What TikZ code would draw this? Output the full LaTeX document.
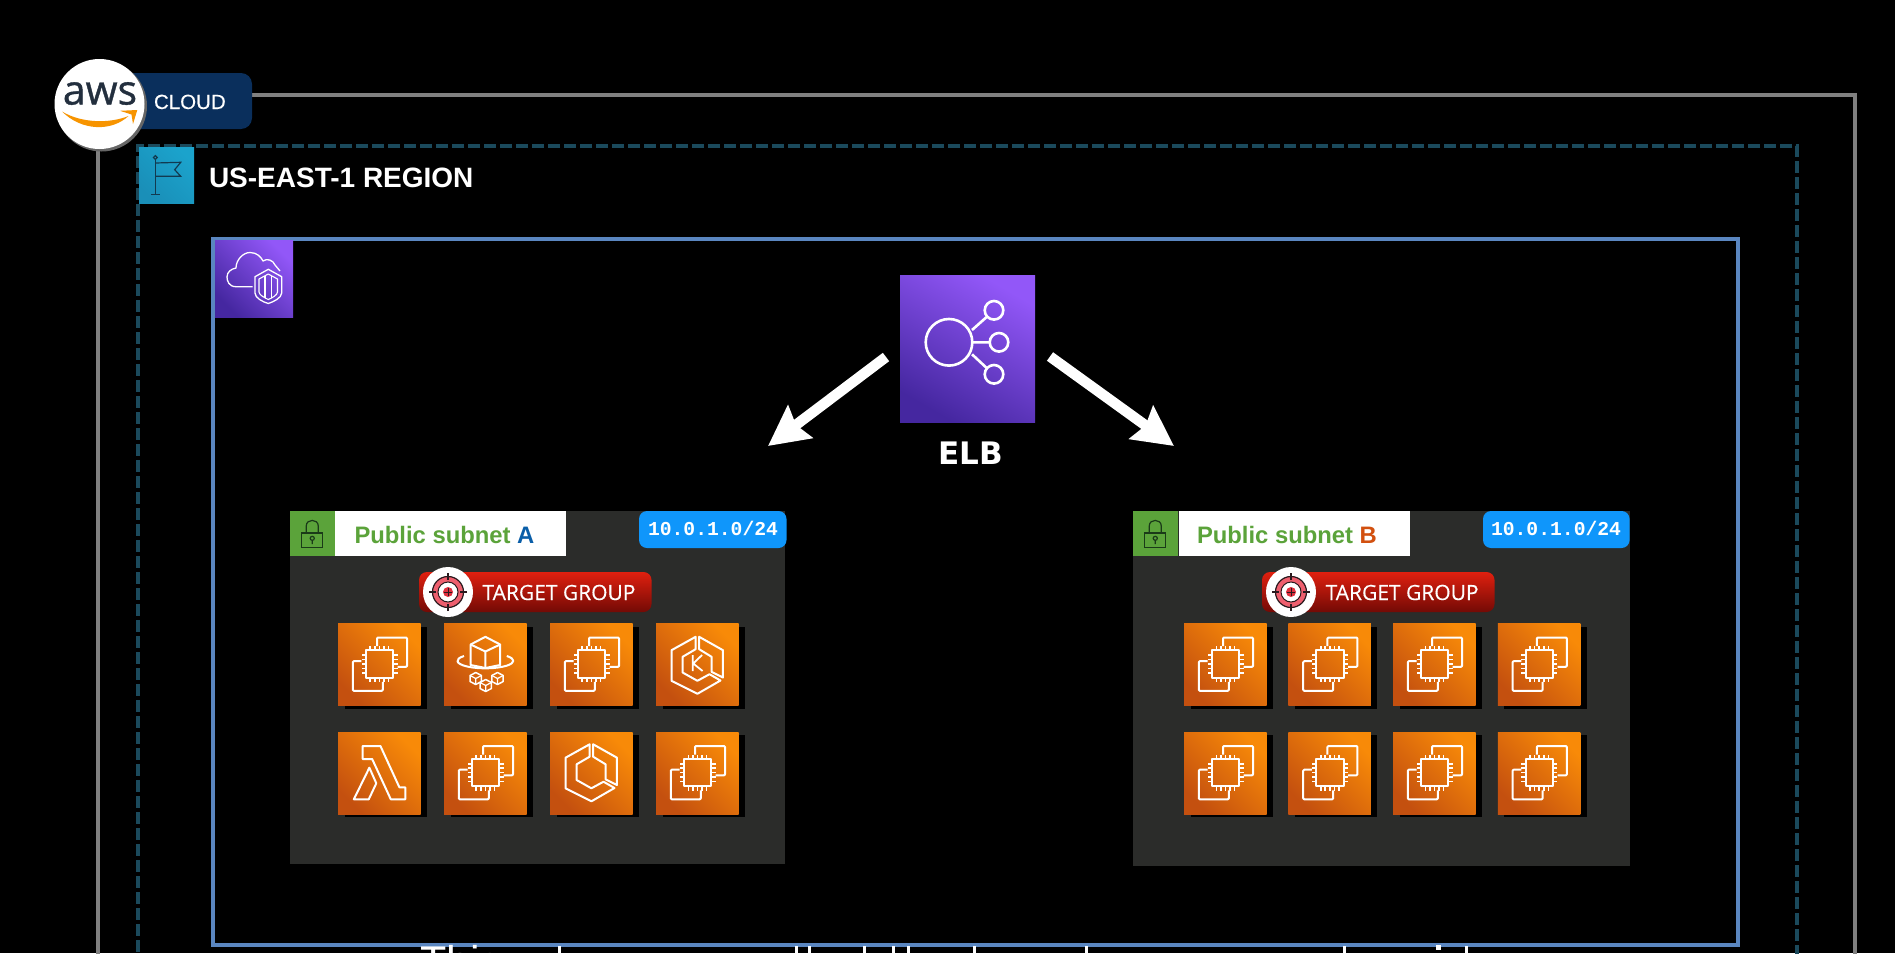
\documentclass[tikz,border=0pt]{standalone}
\usepackage{fontspec}
\setmainfont{Liberation Sans}
\newfontfamily\fmono{Liberation Mono}
\newfontfamily\fopen{Open Sans}[FakeBold=0.35]
\newfontfamily\fawsf{Open Sans}[FakeBold=0.9]
\newfontfamily\fcloud{Liberation Sans}[FakeBold=0.3]
\newfontfamily\fdeja{DejaVu Sans}
\usetikzlibrary{arrows.meta,calc,shapes.geometric}
\definecolor{cloudline}{HTML}{808080}
\definecolor{regionline}{HTML}{1B4A5C}
\definecolor{vpcline}{HTML}{5A86C0}
\definecolor{pillblue}{HTML}{0A2F5C}
\definecolor{subnetbg}{HTML}{2B2C2A}
\definecolor{subgreen}{HTML}{5BA33A}
\definecolor{ipblue}{HTML}{0F96FB}
\definecolor{flagA}{HTML}{1A8FB8}
\definecolor{flagB}{HTML}{1BA3CC}
\definecolor{purpA}{HTML}{4527A0}
\definecolor{purpB}{HTML}{9257F8}
\definecolor{orA}{HTML}{C4500F}
\definecolor{orB}{HTML}{F88A08}
\definecolor{redA}{HTML}{E0200F}
\definecolor{redB}{HTML}{730A05}
\definecolor{awsdark}{HTML}{232F3E}
\definecolor{awsor}{HTML}{F79400}
\definecolor{labA}{HTML}{0A5EA8}
\definecolor{labB}{HTML}{D2500F}
\definecolor{flagink}{HTML}{123A50}
\definecolor{lockink}{HTML}{1A3A18}
\definecolor{tgpink}{HTML}{EE5F6E}
\definecolor{tgred}{HTML}{E0303F}
\definecolor{tgink}{HTML}{2A1A1E}
\tikzset{
  x=1pt,y=-1pt,
  every node/.style={inner sep=0pt,outer sep=0pt},
  cloudbox/.style={draw=cloudline,line width=3.5pt,anchor=north west,minimum width=1757pt,minimum height=900pt},
  regionbox/.style={draw=regionline,line width=3.5pt,dash pattern=on 12pt off 4pt,anchor=north west,minimum width=1659pt,minimum height=880pt},
  vpcbox/.style={draw=vpcline,line width=4pt,anchor=north west,minimum width=1525pt,minimum height=706pt},
  subnetbox/.style={fill=subnetbg,anchor=north west,minimum width=#1,minimum height=353pt},
  greenbox/.style={fill=subgreen,anchor=north west,minimum width=44.5pt,minimum height=45pt},
  whitelabel/.style={fill=white,anchor=north west,minimum width=231pt,minimum height=45pt},
  sublabel/.style={anchor=base west,text=subgreen,font=\bfseries\fontsize{23.8}{26}\selectfont},
  ipbadge/.style={fill=ipblue,rounded corners=8pt,anchor=north west,minimum width=147.5pt,minimum height=37pt},
  iptext/.style={anchor=base west,text=white,font=\fmono\bfseries\fontsize{19.7}{21}\selectfont},
  tgpill/.style={top color=redA,bottom color=redB,rounded corners=8pt,anchor=north west,minimum width=232.5pt,minimum height=40pt},
  tgcircle/.style={circle,fill=white,minimum size=50pt},
  tgtext/.style={anchor=base west,text=white,font=\fopen\fontsize{21}{24}\selectfont},
  orangebox/.style={left color=orA,right color=orB,shading angle=135,anchor=north west,minimum width=82.5pt,minimum height=82pt},
  glyph/.style={draw=white,line width=2pt,line join=round},
  bigarrow/.style={draw=white,line width=10.5pt,-{Stealth[length=40pt,width=40pt,inset=5pt]}},
}
\newcommand{\ecglyph}{%
  \draw[glyph,rounded corners=1pt] (37.7,22.7)--(37.7,14)--(66.7,14)--(66.7,43.3)--(57.7,43.3);
  \draw[glyph,rounded corners=1pt] (22.7,37.7)--(14.3,37.7)--(14.3,67.3)--(43.3,67.3)--(43.3,58.3);
  \draw[glyph] (27,26.7) rectangle (53.3,54.3);
  \foreach \t in {31.2,35.6,40,44.4,48.8}{
    \draw[glyph,line width=1.6pt] (\t,26.7)--(\t,22.5) (\t,54.3)--(\t,58.5);
    \draw[glyph,line width=1.6pt] (27,\t+.5)--(22.8,\t+.5) (53.3,\t+.5)--(57.5,\t+.5);
  }}
\newcommand{\lamglyph}{%
  \draw[glyph] (23.7,14)--(41,14)--(59.3,55.3)--(65,55.3)--(65,67.3)--(51,67.3)--(33,27)--(23.7,27)--cycle;
  \draw[glyph] (30.3,35.7)--(37,51.3)--(29.7,67.3)--(15.3,67.3)--cycle;}
\newcommand{\ecsglyph}{%
  \draw[glyph] (38.3,12.3)--(15,25.7)--(15,56.3)--(40,69.3)--(62.3,56)--(51.7,49.7)--(40,56.3)--(25.7,48)--(25.7,32.3)--(38.3,24.7)--cycle;
  \draw[glyph] (41.7,12.3)--(64.7,25.7)--(64.7,53)--(53.7,47.3)--(53.7,32.3)--(41.7,24.7)--cycle;}
\newcommand{\eksglyph}{%
  \begin{scope}[yshift=-1pt]
  \draw[glyph] (38.3,12.3)--(15,25.7)--(15,56.3)--(40,69.3)--(62.3,56)--(51.7,49.7)--(40,56.3)--(25.7,48)--(25.7,32.3)--(38.3,24.7)--cycle;
  \draw[glyph] (41.7,12.3)--(64.7,25.7)--(64.7,53)--(53.7,47.3)--(53.7,32.3)--(41.7,24.7)--cycle;
  \end{scope}
  \draw[white,line width=1.8pt] (35.5,31.5)--(35.5,47.5) (44.5,31.5)--(36,40)--(45,47.5);}
\newcommand{\fgglyph}{%
  \draw[glyph] (19.3,32.5) arc[start angle=220,end angle=-40,x radius=27,y radius=7.5];
  \draw[glyph] (40,13.3)--(54.3,21)--(54.3,41.5)--(40,44.5)--(25.7,41.5)--(25.7,21)--cycle;
  \draw[glyph] (25.7,21)--(40,28)--(54.3,21) (40,28)--(40,44.5);
  \foreach \cx/\cy in {30.7/55,51.7/55,40.3/62}{
    \begin{scope}[shift={(\cx,\cy)}]
    \draw[glyph,line width=1.5pt] (0,-6)--(5.5,-3)--(5.5,3)--(0,6)--(-5.5,3)--(-5.5,-3)--cycle;
    \draw[glyph,line width=1.2pt] (-5.5,-3)--(0,0)--(5.5,-3) (0,0)--(0,6);
    \end{scope}}}
\newcommand{\iconat}[4]{%
  \fill[black] ({#2+6.5},{#3+3}) rectangle ++(82.5,82);
  \node[orangebox] (#1) at (#2,#3) {};
  \begin{scope}[shift={(#1.north west)},xscale=1.035]#4\end{scope}}
\newcommand{\lockglyph}{%
  \draw[lockink,line width=1.2pt] (11.3,22) rectangle (31.7,36.3);
  \draw[lockink,line width=1.2pt] (15.7,22)--(15.7,15) .. controls (15.7,7.5) and (27.3,7.5) .. (27.3,15)--(27.3,22);
  \draw[lockink,line width=1.2pt] (21.5,27.3) circle[radius=2] (21.5,29.3)--(21.5,33);}
\newcommand{\tgglyph}[1]{%
  \node[tgcircle] (#1c) at (#1.west) [xshift=29pt,yshift=0pt] {};
  \node[circle,draw=tgink,line width=1.2pt,fill=tgpink,minimum size=31pt] (#1o) at (#1c) {};
  \node[circle,draw=tgink,line width=1pt,fill=white,minimum size=20pt] (#1m) at (#1c) {};
  \node[circle,fill=tgred,minimum size=10pt] (#1i) at (#1c) {};
  \draw[tgink,line width=1.2pt] ($(#1c)+(0,-19)$)--($(#1c)+(0,-12)$) ($(#1c)+(0,19)$)--($(#1c)+(0,12)$) ($(#1c)+(-19,0)$)--($(#1c)+(-12,0)$) ($(#1c)+(19,0)$)--($(#1c)+(12,0)$);
  \draw[tgink,line width=.8pt] ($(#1c)+(0,-4)$)--($(#1c)+(0,4)$) ($(#1c)+(-4,0)$)--($(#1c)+(4,0)$);}
\begin{document}
\begin{tikzpicture}
\useasboundingbox (0,0) rectangle (1895,953);
\fill[black] (0,0) rectangle (1895,953);
% containers
\node[cloudbox] (cloud) at (98,95) {};
\node[regionbox] (region) at (138,146) {};
\node[vpcbox] (vpc) at (212.5,239) {};
% bottom caption: only the very tops of its letters are inside the frame
\node[anchor=base west,text=white,font=\fontsize{43}{46}\selectfont] (caption) at (420,976) {This};
\foreach \sx in {558,795,808,863,892,907,973,1085,1343,1465}{\fill[white] (\sx,945.5) rectangle ++(3.2,8);}
\fill[white] (1436,945) rectangle ++(4.5,5);
% aws badge
\node[fill=pillblue,rounded corners=11pt,anchor=north west,minimum width=152pt,minimum height=56pt] (cloudpill) at (100,73) {};
\node[anchor=base west,text=white,font=\fcloud\fontsize{20.5}{22}\selectfont] (cloudtext) at (154,109) {CLOUD};
\node[circle,fill=black!60!white,minimum size=91pt] (awsshadow) at (101.5,106) {};
\node[circle,fill=white,minimum size=90pt] (awslogo) at (99.5,104) {};
\node[anchor=base,text=awsdark,font=\fawsf\fontsize{41}{46}\selectfont] (awstext) at (100,104.5) {aws};
\fill[awsor] (62,111.5) .. controls (82,123.5) and (110,123.5) .. (128.5,116) .. controls (112,131.5) and (82,131.5) .. (62,111.5) -- cycle;
\fill[awsor] (120,110.8) -- (137.3,110) -- (133,124) -- (131.5,114.5) -- cycle;
% region header
\node[left color=flagA,right color=flagB,shading angle=135,anchor=north west,minimum width=55pt,minimum height=56pt] (flag) at (139,147) {};
\begin{scope}[shift={(flag.north west)},flagink,line width=1.2pt]
\draw (16.3,12.5)--(16.3,47.3) (12.3,47.3)--(20.7,47.3);
\draw (16.3,10.5) circle[radius=1.9];
\draw (16.3,16)--(41.7,15.3)--(35.7,22.7)--(41.7,29.3)--(16.3,29.3);
\end{scope}
\node[anchor=base west,text=white,font=\bfseries\fontsize{28}{30}\selectfont] (regiontext) at (209,187) {US-EAST-1 REGION};
% vpc icon
\node[left color=purpA,right color=purpB,shading angle=135,anchor=north west,minimum width=78pt,minimum height=77pt] (vpcicon) at (215,240) {};
\begin{scope}[shift={(vpcicon.north west)}]
\draw[glyph,line width=1.3pt] (37.7,46.7)--(21,46.7) .. controls (14,46.7) and (12,41) .. (12,37) .. controls (12,32) and (16,29) .. (21,28) .. controls (21,20) and (28,12.5) .. (35,12.5) .. controls (42,12.5) and (46,17) .. (48,21) .. controls (52,18) and (58,20) .. (60,25)--(65,31);
\draw[glyph,line width=1.3pt] (53.3,29.3)--(66.7,36.7)--(66.7,53) .. controls (66.7,58) and (58,62) .. (53.3,63.5) .. controls (48,62) and (40,58) .. (40,53)--(40,36.7)--cycle;
\draw[glyph,line width=1.1pt] (53.3,34)--(62.5,39)--(62.5,52) .. controls (62.5,55) and (57,58) .. (53.3,59.5) .. controls (50,58) and (44,55) .. (44,52)--(44,39)--cycle;
\draw[glyph,line width=1.1pt] (50,36)--(50,57.5) (56.6,36)--(56.6,57.5);
\end{scope}
% ELB
\node[left color=purpA,right color=purpB,shading angle=150,anchor=north west,minimum width=135pt,minimum height=147pt] (elb) at (900,275) {};
\begin{scope}[shift={(elb.north west)}]
\draw[glyph,line width=2.6pt] (49,67.3) circle[radius=23.3] (94,35.3) circle[radius=9.3] (99,67.3) circle[radius=9.3] (94,99.3) circle[radius=9.3];
\draw[glyph,line width=2.6pt] (72,55)--(87,41.7) (72.3,67.3)--(89.7,67.3) (72,79.3)--(87,93.3);
\end{scope}
\node[anchor=base,text=white,font=\fdeja\bfseries\fontsize{31}{33}\selectfont] (elbtext) at (971,464) {ELB};
\coordinate (tipA) at (768,446);
\coordinate (tipB) at (1174,446);
\draw[bigarrow] ($(elb.west)+(-14,8.5)$) -- (tipA);
\draw[bigarrow] ($(elb.east)+(15,8)$) -- (tipB);
% subnet A
\node[subnetbox=495pt] (subA) at (290,511) {};
\node[greenbox] (lockA) at (290,511) {};
\begin{scope}[shift={(lockA.north west)},xscale=1.035]\lockglyph\end{scope}
\node[whitelabel] (labelA) at (335.4,511) {};
\node[sublabel] (nameA) at (354.5,543.5) {Public subnet \textcolor{labA}{A}};
\node[ipbadge] (badgeA) at (639,511) {};
\node[iptext] (ipA) at (648,535) {10.0.1.0/24};
\node[tgpill] (tgA) at (419,572) {};
\tgglyph{tgA}
\node[tgtext] (tgtA) at (482.5,600) {TARGET GROUP};
\iconat{a1}{338}{623.5}{\ecglyph}
\iconat{a2}{444}{623.5}{\fgglyph}
\iconat{a3}{550}{623.5}{\ecglyph}
\iconat{a4}{656}{623.5}{\eksglyph}
\iconat{a5}{338}{732}{\lamglyph}
\iconat{a6}{444}{732}{\ecglyph}
\iconat{a7}{550}{732}{\ecsglyph}
\iconat{a8}{656}{732}{\ecglyph}
% subnet B
\node[subnetbox=496.5pt,minimum height=355pt] (subB) at (1133,511) {};
\node[greenbox] (lockB) at (1133,511) {};
\begin{scope}[shift={(lockB.north west)},xscale=1.035]\lockglyph\end{scope}
\node[whitelabel] (labelB) at (1179,511) {};
\node[sublabel] (nameB) at (1197,543.5) {Public subnet \textcolor{labB}{B}};
\node[ipbadge,minimum width=146.6pt] (badgeB) at (1483,511) {};
\node[iptext] (ipB) at (1491,535) {10.0.1.0/24};
\node[tgpill] (tgB) at (1262,572) {};
\tgglyph{tgB}
\node[tgtext] (tgtB) at (1325.6,600) {TARGET GROUP};
\iconat{b1}{1184}{623.5}{\ecglyph}
\iconat{b2}{1288.4}{623.5}{\ecglyph}
\iconat{b3}{1393}{623.5}{\ecglyph}
\iconat{b4}{1497.8}{623.5}{\ecglyph}
\iconat{b5}{1184}{732}{\ecglyph}
\iconat{b6}{1288.4}{732}{\ecglyph}
\iconat{b7}{1393}{732}{\ecglyph}
\iconat{b8}{1497.8}{732}{\ecglyph}
\end{tikzpicture}
\end{document}
